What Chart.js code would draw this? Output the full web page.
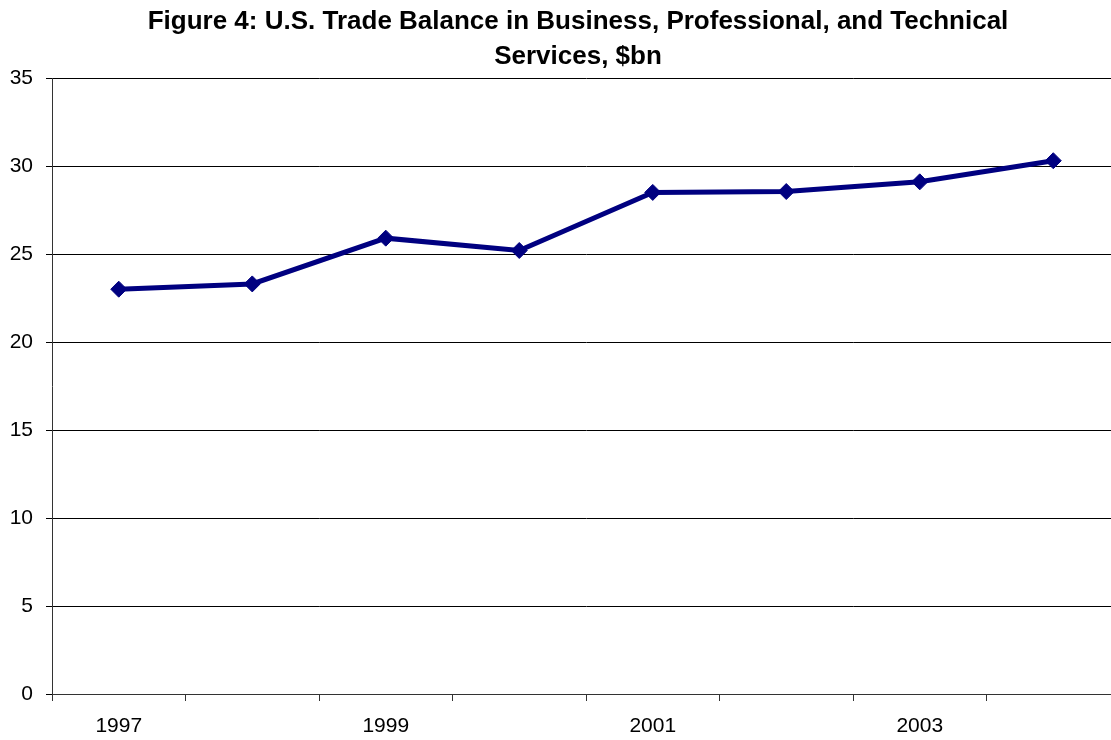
<!DOCTYPE html>
<html>
<head>
<meta charset="utf-8">
<script src="https://cdn.jsdelivr.net/npm/chart.js@4/dist/chart.umd.min.js"></script>
<style>
  html, body { margin: 0; padding: 0; background: #fff; overflow: hidden; }
  #wrap { width: 1111px; height: 740px; overflow: hidden; }
</style>
</head>
<body>
<div id="wrap"><canvas id="chart" width="1156" height="740"></canvas></div>
<script>
// dữ liệu
const years = ['1997', '1998', '1999', '2000', '2001', '2002', '2003', '2004'];
const balance = [23.0, 23.3, 25.9, 25.2, 28.5, 28.55, 29.1, 30.3];
const yTicks = [0, 5, 10, 15, 20, 25, 30, 35];
const titleLines = ['Figure 4: U.S. Trade Balance in Business, Professional, and Technical', 'Services, $bn'];

const font = 'Liberation Sans, Arial, sans-serif';

new Chart(document.getElementById('chart'), {
  type: 'line',
  data: {
    labels: years,
    datasets: [{
      data: balance,
      borderColor: '#000080',
      backgroundColor: '#000080',
      borderWidth: 5,
      pointStyle: 'rectRot',
      pointRadius: 8,
      pointBorderWidth: 1,
      tension: 0
    }]
  },
  options: {
    responsive: false,
    devicePixelRatio: 1,
    animation: false,
    layout: { padding: { top: 0, bottom: 2, left: 0, right: 0 } },
    plugins: {
      legend: { display: false },
      tooltip: { enabled: false },
      title: {
        display: true,
        text: titleLines,
        color: '#000',
        font: { family: font, size: 26, weight: 'bold', lineHeight: '35px' },
        padding: { top: 4, bottom: 4 }
      }
    },
    scales: {
      x: {
        offset: true,
        afterFit: s => { s.height = 44; },
        grid: { offset: true, drawOnChartArea: false, color: '#333', tickLength: 7 },
        border: { color: '#333', width: 1 },
        ticks: {
          color: '#000',
          font: { family: font, size: 21 },
          padding: 13,
          autoSkip: false,
          maxRotation: 0,
          callback: (v, i) => (i % 2 === 0 ? years[i] : '')
        }
      },
      y: {
        min: 0,
        max: 35,
        afterFit: s => { s.width = 52; },
        afterBuildTicks: s => { s.ticks = yTicks.map(v => ({ value: v })); },
        grid: { color: '#000', lineWidth: 1, tickLength: 6 },
        border: { color: '#333', width: 1 },
        ticks: { color: '#000', font: { family: font, size: 21 }, padding: 13 }
      },
      // trục giả bên phải để giữ khoảng trống (biểu đồ gốc bị cắt mép phải)
      y2: {
        position: 'right',
        afterFit: s => { s.width = 36; },
        grid: { display: false },
        border: { display: false },
        ticks: { display: false }
      }
    }
  }
});
</script>
</body>
</html>
